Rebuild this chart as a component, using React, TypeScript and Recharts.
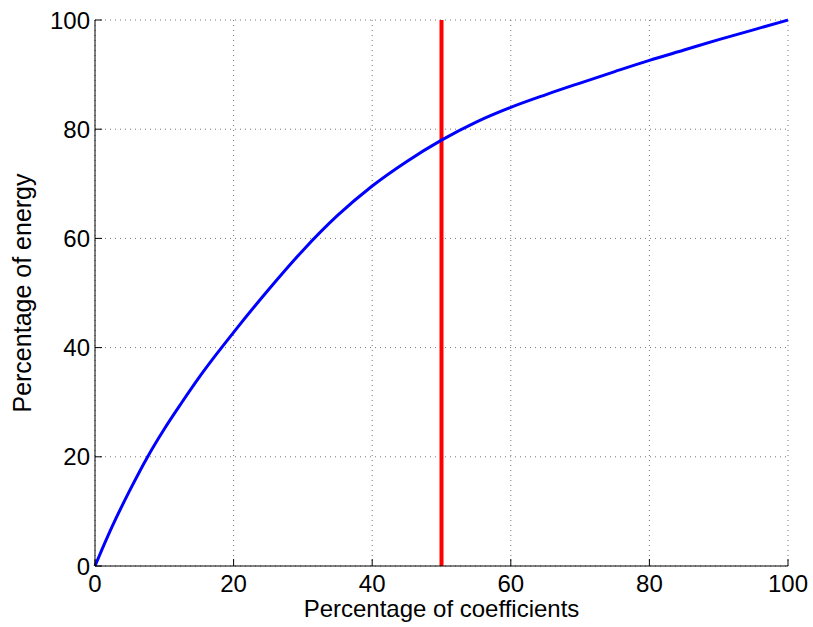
import React from 'react';
import { LineChart, Line, XAxis, YAxis, CartesianGrid, ReferenceLine } from 'recharts';

// percentage of coefficients kept (x) vs percentage of energy retained (y)
const coeffPct = [0, 1, 2.5, 5, 7.5, 10, 12.5, 15, 17.5, 20, 25, 30, 35, 40, 45, 50, 55, 60, 65, 70, 75, 80, 85, 90, 95, 100];
const energyPct = [0, 3.0, 7.3, 13.8, 19.8, 25.1, 29.9, 34.5, 38.75, 42.8, 50.55, 57.8, 64.2, 69.6, 74.1, 78.0, 81.3, 84.0, 86.3, 88.45, 90.55, 92.6, 94.5, 96.4, 98.2, 100];
const tickValues = [0, 20, 40, 60, 80, 100];
const threshold = 50;

const data = coeffPct.map((x, i) => ({ x, energy: energyPct[i] }));

const font = '"Liberation Sans", Arial, Helvetica, sans-serif';
const tickStyle = { fill: '#000', fontSize: 24, fontFamily: font };

const App: React.FC = () => {
  return (
    <div style={{ position: 'absolute', left: 0, top: 0, width: 813, height: 627, background: '#fff' }}>
      <LineChart
        width={813}
        height={627}
        data={data}
        margin={{ top: 20, right: 25, bottom: 0, left: 0 }}
      >
        <CartesianGrid stroke="#777" strokeDasharray="1 4" />
        <XAxis
          dataKey="x"
          type="number"
          domain={[0, 100]}
          ticks={tickValues}
          height={61}
          stroke="#000"
          tickSize={-7}
          tickMargin={16}
          tick={tickStyle}
          label={{ value: 'Percentage of coefficients', position: 'insideBottom', offset: 10, fill: '#000', fontSize: 24, fontFamily: font }}
        />
        <XAxis
          xAxisId="top"
          orientation="top"
          type="number"
          domain={[0, 100]}
          ticks={tickValues}
          height={0}
          stroke="#000"
          tickSize={-7}
          tickFormatter={() => ''}
        />
        <YAxis
          type="number"
          domain={[0, 100]}
          ticks={tickValues}
          width={95}
          stroke="#000"
          tickSize={-7}
          tickMargin={12}
          tick={tickStyle}
          label={{ value: 'Percentage of energy', angle: -90, position: 'insideLeft', offset: 22, style: { textAnchor: 'middle' }, fill: '#000', fontSize: 25, fontFamily: font }}
        />
        <YAxis
          yAxisId="right"
          orientation="right"
          type="number"
          domain={[0, 100]}
          ticks={tickValues}
          width={0}
          stroke="#000"
          tickSize={-7}
          tickFormatter={() => ''}
        />
        <ReferenceLine x={threshold} stroke="#ff0000" strokeWidth={4} />
        <Line
          type="monotone"
          dataKey="energy"
          stroke="#0000ff"
          strokeWidth={3}
          dot={false}
          isAnimationActive={false}
        />
      </LineChart>
    </div>
  );
};

export default App;
